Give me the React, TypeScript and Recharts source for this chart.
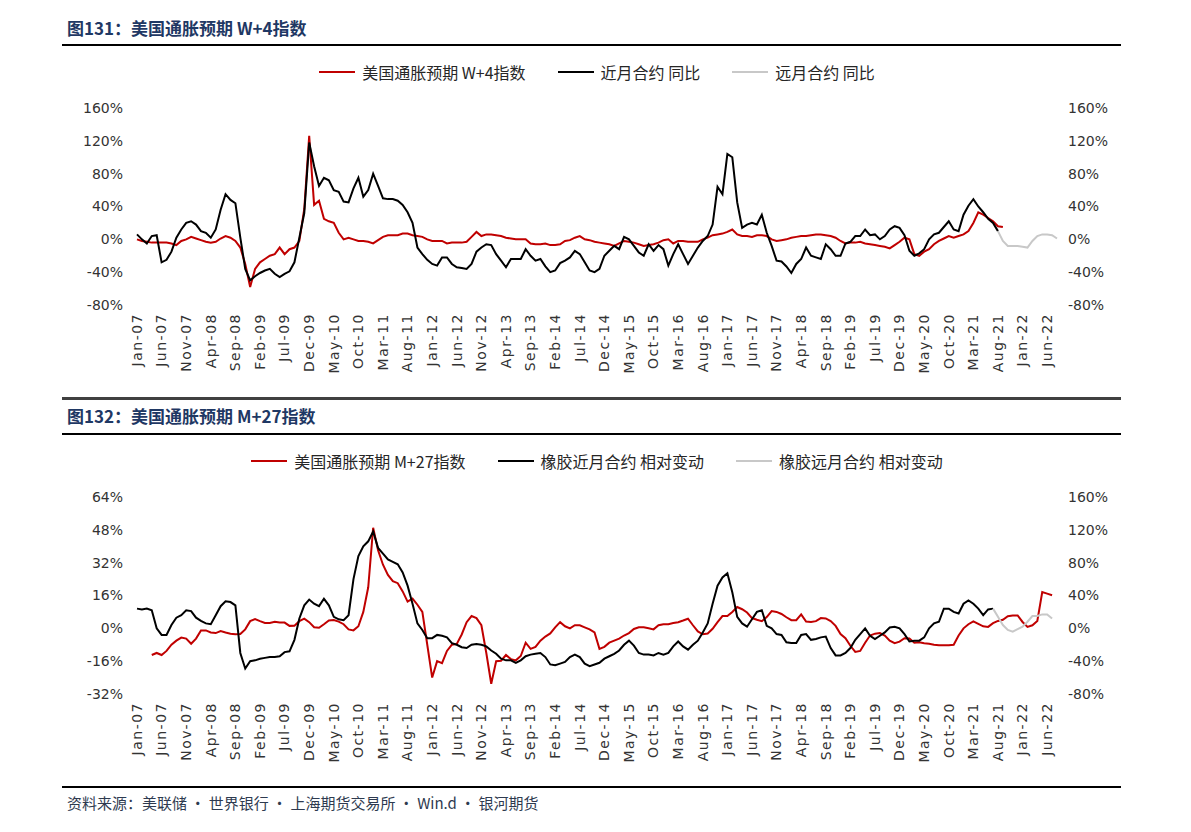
import { LineChart, Line, XAxis, YAxis } from "recharts";

// month axis: Jan-07 .. Aug-22
const MONTH_NAMES = ["Jan", "Feb", "Mar", "Apr", "May", "Jun", "Jul", "Aug", "Sep", "Oct", "Nov", "Dec"];
const FIRST_YEAR = 7;
const MONTH_COUNT = 188;
const MONTHS = Array.from(
  { length: MONTH_COUNT },
  (_, i) => `${MONTH_NAMES[i % 12]}-${String(FIRST_YEAR + Math.floor(i / 12)).padStart(2, "0")}`
);

// 图131 (%, from Jan-07)
const W4_INDEX = [
  0, -2, -3, -4, -4, -4, -4, -5, -7, -2, 0, 3, 1, -1, -3, -4, -3, 1, 4, 2,
  -2, -10, -30, -58, -36, -28, -24, -20, -18, -10, -18, -12, -10, -2, 37, 126, 42, 47, 25, 22,
  20, 8, 0, 2, 0, -2, -2, -3, -5, -1, 3, 5, 5, 5, 7, 7, 5, 4, 3, 0,
  -2, -2, -2, -5, -4, -4, -4, -3, 3, 9, 4, 6, 6, 5, 4, 2, 1, 0, 0, 0,
  -5, -6, -6, -5, -7, -7, -6, -2, -1, 2, 4, 0, -1, -3, -4, -5, -6, -8, -5, -2,
  -3, -4, -6, -8, -7, -6, -4, -1, 0, -5, -2, -2, -3, -3, -3, 0, 2, 5, 6, 7,
  9, 12, 6, 4, 4, 3, 5, 5, 4, 0, -2, -1, 0, 2, 3, 4, 4, 5, 6, 6,
  5, 4, 2, -2, -5, -4, -4, -3, -5, -6, -7, -8, -9, -11, -7, -3, 2, 0, -18, -20,
  -15, -12, -6, -2, 1, 4, 2, 4, 6, 10, 20, 33, 30, 26, 22, 16, 15,
];
const NEAR_YOY = [
  6, 0, -5, 4, 5, -28, -25, -15, 2, 12, 20, 22, 18, 10, 8, 2, 12, 36, 55, 48,
  44, 2, -36, -50, -45, -41, -38, -36, -42, -46, -42, -39, -28, 2, 32, 118, 89, 65, 75, 72,
  60, 58, 46, 45, 62, 75, 52, 60, 80, 65, 50, 49, 49, 47, 42, 33, 20, -10, -18, -25,
  -30, -32, -22, -22, -30, -34, -35, -36, -30, -15, -10, -6, -7, -18, -26, -34, -24, -24, -24, -12,
  -20, -26, -24, -33, -40, -38, -29, -26, -22, -14, -18, -28, -38, -40, -36, -20, -14, -8, -12, 3,
  0, -8, -16, -20, -6, -14, -7, -12, -32, -18, -6, -18, -30, -20, -10, -2, 4, 18, 64, 55,
  104, 100, 45, 14, 18, 20, 18, 30, 8, -8, -26, -27, -33, -41, -30, -24, -10, -20, -22, -24,
  -6, -12, -20, -20, -5, -3, 4, 4, 12, 5, 6, 0, 4, 12, 16, 14, 5, -14, -20, -17,
  -12, 0, 6, 8, 15, 22, 12, 10, 30, 41, 49, 40, 33, 25, 20, 10,
];
const FAR_YOY_START = 175; // Aug-21
const FAR_YOY = [10, -2, -8, -8, -8, -9, -10, -2, 4, 6, 6, 5, 1];

// 图132 (%)
const M27_START = 3; // Apr-07
const M27_INDEX = [
  -13, -12, -13, -11, -8, -6, -4.5,
  -5, -7.5, -5, -1, -1, -2, -2.3, -1.3, -2, -2.6,
  -2.9, -2.8, -0.5, 3.5, 4.5, 3.5, 2.6, 2.6, 3.2, 2.8,
  2.8, 1.2, 1.3, 3.5, 4.7, 3, 0.5, 0.3, 2, 3.8,
  4, 3.3, 2, -0.5, -1, 1, 8, 20, 49, 38,
  31, 26, 23, 22, 18, 13, 14.5, 11.5, 8, -8,
  -24, -16, -17, -11, -8, -7.6, -3, 3, 6, 5,
  1.5, -12, -27, -16, -15.8, -13, -15, -15.6, -13.5, -7,
  -10, -9, -6, -4, -2.5, 0.5, 3, 1, 0, 1.5,
  1.5, 0.5, -0.5, -2, -10, -9, -7, -6, -5, -3.5,
  -2.3, -0.3, 0.5, 0.5, 0, -0.5, 1.5, 2, 2, 2.6,
  3, 3.8, 4.7, 1.5, -1.5, -2.9, -2.5, -0.2, 3, 6,
  6, 8, 10.4, 9.3, 7.7, 5, 4.2, 3.5, 5.5, 8.4,
  8, 7, 5.4, 4, 4, 6.8, 3.3, 3.1, 3.5, 5,
  4.8, 3.5, 1.2, -2.8, -4.8, -8.5, -11.5, -11, -7, -3.5,
  -2.6, -2.3, -3.5, -6, -7.2, -6.5, -4.8, -5, -7, -6.8,
  -7.3, -7.5, -8, -8.3, -8.3, -8.3, -8, -3.5, 0, 2,
  3.4, 2.2, 1, 0.7, 2.5, 3.6, 4.2, 5.9, 6.3, 6.3,
  3.1, 0.7, 1.5, 3.6, 17.7, 16.9, 16.1,
];
const RUBBER_NEAR = [
  24, 23, 24, 22, 0, -8, -8, 4, 13, 16, 22, 21, 13, 9, 6, 5, 16, 27, 33, 32,
  28, -30, -49, -40, -39, -37, -36, -35, -35, -34, -29, -28, -14, 12, 28, 35, 30, 27, 36, 28,
  14, 11, 10, 16, 60, 88, 100, 106, 118, 98, 91, 84, 81, 78, 68, 52, 30, 6, -2, -12,
  -12, -8, -9, -11, -18, -20, -23, -24, -20, -19, -20, -22, -27, -31, -37, -39, -39, -42, -39, -34,
  -32, -31, -30, -35, -44, -45, -43, -41, -35, -32, -35, -43, -46, -44, -42, -37, -34, -31, -27, -20,
  -15, -21, -30, -32, -32, -33, -30, -32, -30, -22, -16, -22, -26, -20, -15, -5, 6, 30, 52, 62,
  67, 44, 14, 6, 2, 11, 20, 22, 3, 0, -7, -8, -17, -18, -18, -8, -7, -14, -13, -11,
  -10, -24, -33, -33, -30, -24, -14, -7, 0, -9, -13, -9, -5, 1, 2, 0, -7, -16, -15, -15,
  -11, 0, 6, 8, 24, 24, 20, 18, 30, 34, 30, 24, 16, 23, 24,
];
const RUBBER_FAR_START = 174; // Jul-21
const RUBBER_FAR = [24, 14, 4, -2, -4, -1, 2, 8, 15, 15, 17, 17, 12];

const TOP_TICKS = [-80, -40, 0, 40, 80, 120, 160];
const BOTTOM_LEFT_TICKS = [-32, -16, 0, 16, 32, 48, 64];

const topRows = MONTHS.map((month, i) => ({
  month,
  w4: W4_INDEX[i] ?? null,
  near: NEAR_YOY[i] ?? null,
  far: i >= FAR_YOY_START ? FAR_YOY[i - FAR_YOY_START] ?? null : null,
}));

const bottomRows = MONTHS.map((month, i) => ({
  month,
  m27: i >= M27_START ? M27_INDEX[i - M27_START] ?? null : null,
  near: RUBBER_NEAR[i] ?? null,
  far: i >= RUBBER_FAR_START ? RUBBER_FAR[i - RUBBER_FAR_START] ?? null : null,
}));

const NUM_FONT = "'DejaVu Sans', sans-serif";
const CJK_FONT = "'Noto Sans CJK SC', 'Noto Sans', sans-serif";
const AXIS_COLOR = "#333333";
const RED = "#c00000";
const GREY = "#c8c8c8";

const pct = (v: number) => `${v}%`;
const yTick = { fill: AXIS_COLOR, fontSize: 14, fontFamily: NUM_FONT };

function MonthTick(props: any) {
  const { x, y, payload } = props;
  return (
    <text
      x={x}
      y={y}
      transform={`rotate(-90, ${x}, ${y})`}
      textAnchor="end"
      dy="0.35em"
      fill={AXIS_COLOR}
      fontSize={14}
      letterSpacing={1.5}
      fontFamily={NUM_FONT}
    >
      {payload.value}
    </text>
  );
}

function Legend({ top, items }: { top: number; items: { label: string; color: string }[] }) {
  return (
    <div
      style={{
        position: "absolute",
        top,
        left: 137,
        width: 920,
        height: 20,
        display: "flex",
        justifyContent: "center",
        alignItems: "center",
        gap: 32,
        fontFamily: CJK_FONT,
        fontSize: 16,
        color: "#262626",
      }}
    >
      {items.map((it) => (
        <div key={it.label} style={{ display: "flex", alignItems: "center", gap: 7 }}>
          <span style={{ display: "inline-block", width: 36, height: 2, background: it.color }} />
          <span style={{ whiteSpace: "pre" }}>{it.label}</span>
        </div>
      ))}
    </div>
  );
}

function Title({ top, text }: { top: number; text: string }) {
  return (
    <div
      style={{
        position: "absolute",
        top,
        left: 67,
        lineHeight: "22px",
        fontFamily: CJK_FONT,
        fontSize: 17,
        fontWeight: 700,
        color: "#1f3864",
        whiteSpace: "pre",
      }}
    >
      {text}
    </div>
  );
}

function Rule({ top, h, color }: { top: number; h: number; color: string }) {
  return <div style={{ position: "absolute", top, left: 62, width: 1059, height: h, background: color }} />;
}

const CHART_MARGIN = { top: 13, right: 74, bottom: 0, left: 77 };

export default function App() {
  return (
    <div style={{ position: "absolute", left: 0, top: 0, width: 1191, height: 832, background: "#fff", overflow: "hidden" }}>
      <Title top={17} text="图131：美国通胀预期 W+4指数" />
      <Rule top={44} h={2} color="#000" />
      <Legend
        top={62}
        items={[
          { label: "美国通胀预期 W+4指数", color: RED },
          { label: "近月合约 同比", color: "#000" },
          { label: "远月合约 同比", color: GREY },
        ]}
      />
      <div style={{ position: "absolute", top: 95, left: 0 }}>
        <LineChart width={1191} height={280} data={topRows} margin={CHART_MARGIN}>
          <XAxis
            dataKey="month"
            interval={4}
            tick={<MonthTick />}
            tickLine={false}
            axisLine={false}
            tickSize={0}
            tickMargin={8}
            height={70}
          />
          <YAxis
            yAxisId="left"
            domain={[-80, 160]}
            ticks={TOP_TICKS}
            tickFormatter={pct}
            width={60}
            tickLine={false}
            axisLine={false}
            tickSize={0}
            tickMargin={14}
            tick={yTick}
          />
          <YAxis
            yAxisId="right"
            orientation="right"
            domain={[-80, 160]}
            ticks={TOP_TICKS}
            tickFormatter={pct}
            width={60}
            tickLine={false}
            axisLine={false}
            tickSize={0}
            tickMargin={11}
            tick={{ ...yTick, textAnchor: "start" }}
          />
          <Line yAxisId="left" dataKey="w4" stroke={RED} strokeWidth={2} dot={false} isAnimationActive={false} />
          <Line yAxisId="right" dataKey="near" stroke="#000" strokeWidth={2} dot={false} isAnimationActive={false} />
          <Line yAxisId="right" dataKey="far" stroke={GREY} strokeWidth={2} dot={false} isAnimationActive={false} />
        </LineChart>
      </div>

      <Rule top={397} h={3} color="#404040" />
      <Title top={405} text="图132：美国通胀预期 M+27指数" />
      <Rule top={433} h={2} color="#000" />
      <Legend
        top={451}
        items={[
          { label: "美国通胀预期 M+27指数", color: RED },
          { label: "橡胶近月合约 相对变动", color: "#000" },
          { label: "橡胶远月合约 相对变动", color: GREY },
        ]}
      />
      <div style={{ position: "absolute", top: 484, left: 0 }}>
        <LineChart width={1191} height={280} data={bottomRows} margin={CHART_MARGIN}>
          <XAxis
            dataKey="month"
            interval={4}
            tick={<MonthTick />}
            tickLine={false}
            axisLine={false}
            tickSize={0}
            tickMargin={8}
            height={70}
          />
          <YAxis
            yAxisId="left"
            domain={[-32, 64]}
            ticks={BOTTOM_LEFT_TICKS}
            tickFormatter={pct}
            width={60}
            tickLine={false}
            axisLine={false}
            tickSize={0}
            tickMargin={14}
            tick={yTick}
          />
          <YAxis
            yAxisId="right"
            orientation="right"
            domain={[-80, 160]}
            ticks={TOP_TICKS}
            tickFormatter={pct}
            width={60}
            tickLine={false}
            axisLine={false}
            tickSize={0}
            tickMargin={11}
            tick={{ ...yTick, textAnchor: "start" }}
          />
          <Line yAxisId="left" dataKey="m27" stroke={RED} strokeWidth={2} dot={false} isAnimationActive={false} />
          <Line yAxisId="right" dataKey="near" stroke="#000" strokeWidth={2} dot={false} isAnimationActive={false} />
          <Line yAxisId="right" dataKey="far" stroke={GREY} strokeWidth={2} dot={false} isAnimationActive={false} />
        </LineChart>
      </div>

      <Rule top={786} h={2} color="#000" />
      <div
        style={{
          position: "absolute",
          top: 793,
          left: 67,
          lineHeight: "20px",
          fontFamily: CJK_FONT,
          fontSize: 15,
          color: "#2e3a4f",
          whiteSpace: "pre",
        }}
      >
        资料来源：美联储 · 世界银行 · 上海期货交易所 · Win.d · 银河期货
      </div>
    </div>
  );
}
